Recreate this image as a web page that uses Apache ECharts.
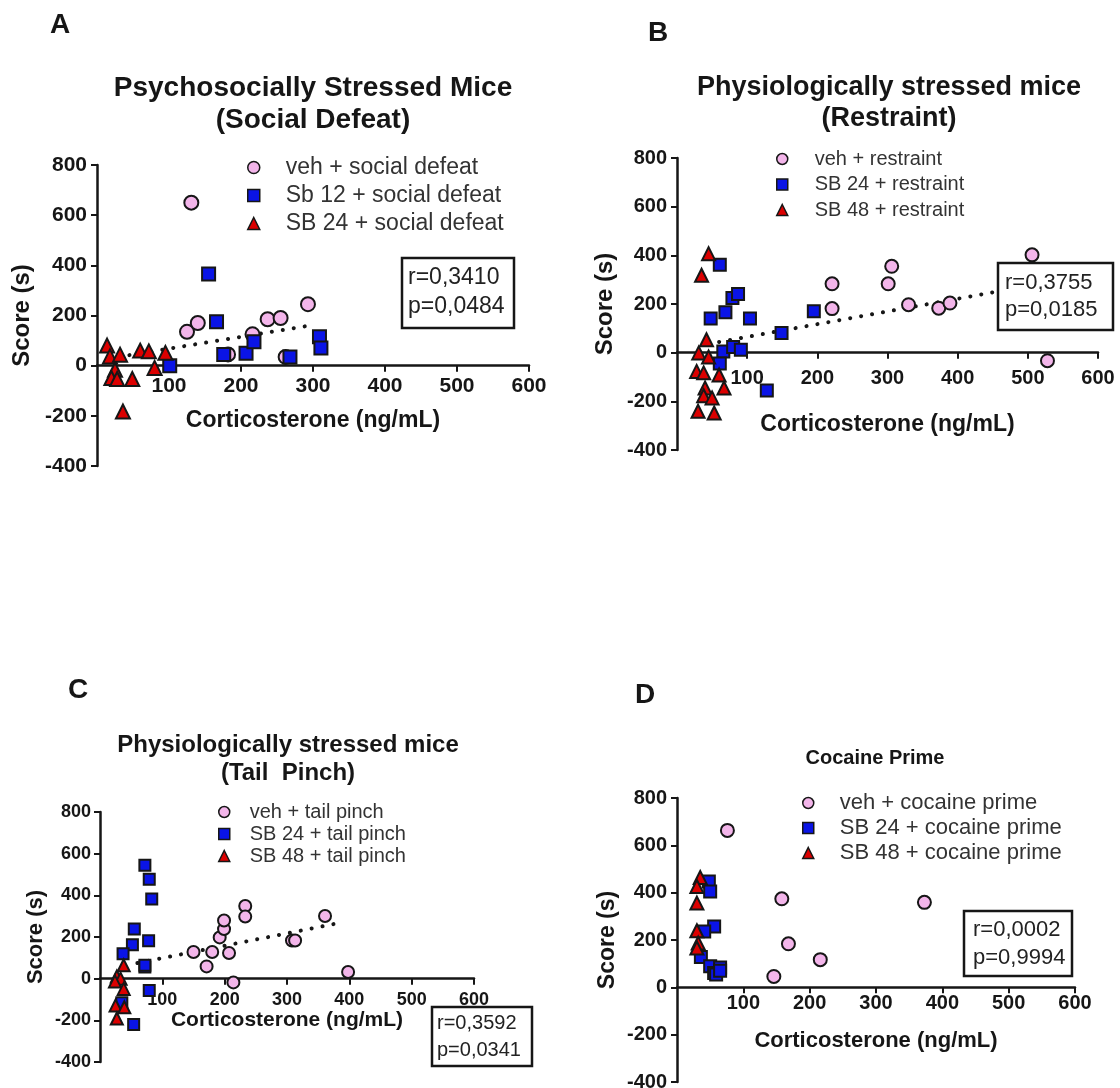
<!DOCTYPE html>
<html>
<head>
<meta charset="utf-8">
<script src="https://cdn.jsdelivr.net/npm/echarts@6/dist/echarts.min.js"></script>
<style>
  html, body { margin: 0; padding: 0; background: #ffffff; }
  #chart { width: 1120px; height: 1088px; }
</style>
</head>
<body>
<div id="chart"></div>
<script>
// ---- Panel A: social defeat ----
const vehSocialDefeat = [[131, 650], [125, 135], [140, 170], [182, 45], [216, 125], [237, 185], [255, 190], [262, 35], [293, 245]];
const sb12SocialDefeat = [[101, 0], [155, 365], [166, 175], [176, 45], [207, 50], [218, 95], [268, 35], [309, 115], [311, 70]];
const sb24SocialDefeat = [[14, 80], [18, 37], [32, 44], [25, -16], [20, -49], [28, -53], [49, -53], [36, -183], [60, 60], [72, 57], [80, -9], [95, 51]];
const fitSocialDefeat = [[45, 42], [300, 162]];
const statsSocialDefeat = ['r=0,3410', 'p=0,0484'];

// ---- Panel B: restraint ----
const vehRestraint = [[221, 283], [221, 181], [306, 355], [301, 283], [330, 197], [373, 183], [389, 204], [506, 402], [528, -33]];
const sb24Restraint = [[61, 361], [48, 140], [69, 166], [79, 225], [87, 241], [104, 140], [149, 81], [195, 170], [66, 5], [80, 23], [91, 12], [61, -45], [128, -155]];
const sb48Restraint = [[45, 407], [35, 318], [42, 53], [31, -1], [45, -18], [28, -77], [38, -83], [60, -92], [40, -145], [67, -145], [38, -177], [50, -186], [30, -241], [53, -248]];
const fitRestraint = [[60, 44], [460, 253]];
const statsRestraint = ['r=0,3755', 'p=0,0185'];

// ---- Panel C: tail pinch ----
const vehTailPinch = [[150, 128], [171, 59], [180, 128], [192, 198], [199, 238], [199, 279], [207, 123], [214, -18], [233, 349], [233, 298], [308, 183], [313, 183], [361, 301], [398, 32]];
const sb24TailPinch = [[72, 56], [72, 65], [72, 545], [79, 477], [83, 383], [78, 182], [55, 238], [52, 163], [37, 120], [79, -57], [35, -116], [54, -220]];
const sb48TailPinch = [[38, 64], [27, 11], [33, 0], [24, -13], [38, -49], [25, -129], [39, -137], [27, -191]];
const fitTailPinch = [[60, 75], [385, 268]];
const statsTailPinch = ['r=0,3592', 'p=0,0341'];

// ---- Panel D: cocaine prime ----
const vehCocaine = [[76, 663], [158, 374], [168, 184], [146, 46], [216, 117], [373, 359]];
const sb24Cocaine = [[48, 447], [50, 405], [56, 257], [41, 236], [36, 128], [50, 89], [65, 84], [56, 61], [59, 54], [65, 70]];
const sb48Cocaine = [[35, 464], [30, 426], [30, 356], [30, 239], [32, 187], [30, 166]];
const statsCocaine = ['r=0,0002', 'p=0,9994'];

// ---- shared axis scale ----
const xRange = { min: 0, max: 600, interval: 100 };
const yRange = { min: -400, max: 800, interval: 200 };
const xAxisTitle = 'Corticosterone (ng/mL)';
const yAxisTitle = 'Score (s)';

const FONT = '"Liberation Sans", Arial, Helvetica, sans-serif';
const INK = '#161616';
const PINK = '#f3b5ea';
const BLUE = '#0a14e6';
const RED = '#dc0000';

const panels = [
  {
    grid: { left: 97, top: 165, width: 432, height: 301 },
    tick: 21, xName: 23, yName: 24, xGap: 43, yGap: 63, xMargin: 10, yMargin: 10,
    sym: 14,
    legend: { left: 247, top: 156, font: 23, gap: 5, pad: 21, icon: 12 },
    names: ['veh + social defeat', 'Sb 12 + social defeat', 'SB 24 + social defeat'],
    data: [vehSocialDefeat, sb12SocialDefeat, sb24SocialDefeat],
    fit: fitSocialDefeat
  },
  {
    grid: { left: 677, top: 158, width: 421, height: 292 },
    tick: 20, xName: 23, yName: 24, xGap: 60, yGap: 60, xMargin: 16, yMargin: 10,
    sym: 13,
    legend: { left: 776, top: 149, font: 20, gap: 5.5, pad: 22, icon: 11 },
    names: ['veh + restraint', 'SB 24 + restraint', 'SB 48 + restraint'],
    data: [vehRestraint, sb24Restraint, sb48Restraint],
    fit: fitRestraint
  },
  {
    grid: { left: 100, top: 812, width: 374, height: 250 },
    tick: 18, xName: 21, yName: 22, xGap: 31, yGap: 53, xMargin: 12, yMargin: 9,
    sym: 12,
    legend: { left: 218, top: 802, font: 20, gap: 2, pad: 15, icon: 11 },
    names: ['veh + tail pinch', 'SB 24 + tail pinch', 'SB 48 + tail pinch'],
    data: [vehTailPinch, sb24TailPinch, sb48TailPinch],
    fit: fitTailPinch
  },
  {
    grid: { left: 677, top: 798, width: 398, height: 284 },
    tick: 20, xName: 22, yName: 23, xGap: 43, yGap: 58, xMargin: 6, yMargin: 10,
    sym: 13,
    legend: { left: 802, top: 792, font: 22, gap: 3, pad: 21, icon: 11 },
    names: ['veh + cocaine prime', 'SB 24 + cocaine prime', 'SB 48 + cocaine prime'],
    data: [vehCocaine, sb24Cocaine, sb48Cocaine],
    fit: null
  }
];

const groupStyle = [
  { symbol: 'circle', color: PINK, icon: 'circle' },
  { symbol: 'rect', color: BLUE, icon: 'rect' },
  { symbol: 'triangle', color: RED, icon: 'triangle' }
];

const grids = [], xAxes = [], yAxes = [], series = [], legends = [];

panels.forEach((p, i) => {
  grids.push(Object.assign({ containLabel: false, outerBoundsMode: 'none' }, p.grid));
  // the x axis runs along score 0: lift it from the grid bottom by the share of the y range below zero
  const zeroLift = p.grid.height * (0 - yRange.min) / (yRange.max - yRange.min);
  xAxes.push({
    type: 'value', gridIndex: i, position: 'bottom', offset: -zeroLift,
    min: xRange.min, max: xRange.max, interval: xRange.interval,
    name: xAxisTitle, nameLocation: 'middle', nameGap: p.xGap,
    nameTextStyle: { fontFamily: FONT, fontWeight: 'bold', fontSize: p.xName, color: INK },
    axisLine: { onZero: false, lineStyle: { color: INK, width: 2.5 } },
    axisTick: { show: true, length: 6, lineStyle: { color: INK, width: 2 } },
    axisLabel: { showMinLabel: false, margin: p.xMargin, fontFamily: FONT, fontWeight: 'bold', fontSize: p.tick, color: INK },
    splitLine: { show: false }
  });
  yAxes.push({
    type: 'value', gridIndex: i, position: 'left',
    min: yRange.min, max: yRange.max, interval: yRange.interval,
    name: yAxisTitle, nameLocation: 'middle', nameGap: p.yGap, nameRotate: 90,
    nameTextStyle: { fontFamily: FONT, fontWeight: 'bold', fontSize: p.yName, color: INK },
    axisLine: { show: true, onZero: false, lineStyle: { color: INK, width: 2.5 } },
    axisTick: { show: true, length: 6, lineStyle: { color: INK, width: 2 } },
    axisLabel: { margin: p.yMargin, fontFamily: FONT, fontWeight: 'bold', fontSize: p.tick, color: INK },
    splitLine: { show: false }
  });

  if (p.fit) {
    series.push({
      type: 'line', xAxisIndex: i, yAxisIndex: i, data: p.fit,
      showSymbol: false, silent: true, z: 1,
      lineStyle: { color: INK, width: 4, type: [0.1, 11], cap: 'round' }
    });
  }

  p.names.forEach((name, g) => {
    series.push({
      type: 'scatter', name, xAxisIndex: i, yAxisIndex: i,
      data: p.data[g], symbol: groupStyle[g].symbol,
      symbolSize: groupStyle[g].symbol === 'rect' ? p.sym - 1 : p.sym,
      itemStyle: { color: groupStyle[g].color, borderColor: INK, borderWidth: 2, opacity: 1 },
      z: 3
    });
  });

  legends.push({
    orient: 'vertical', left: p.legend.left, top: p.legend.top, padding: 0,
    itemWidth: p.legend.icon, itemHeight: p.legend.icon, itemGap: p.legend.gap,
    selectedMode: false,
    textStyle: { fontFamily: FONT, fontSize: p.legend.font, color: '#333', padding: [0, 0, 0, p.legend.pad] },
    data: p.names.map((name, g) => ({
      name, icon: groupStyle[g].icon,
      itemStyle: { color: groupStyle[g].color, borderColor: INK, borderWidth: 1.5 }
    }))
  });
});

// panel letters, titles and correlation boxes
function label(text, x, y, size, weight, align) {
  return {
    type: 'text', x, y, silent: true, z: 10,
    style: { text, font: (weight || 'bold') + ' ' + size + 'px ' + FONT, fill: INK,
      align: align || 'center', verticalAlign: 'middle', lineHeight: Math.round(size * 1.15) }
  };
}
function statBox(lines, x, y, w, h, size, tx, ty1, ty2, fill) {
  return [
    { type: 'rect', silent: true, z: 5, shape: { x, y, width: w, height: h },
      style: { fill: fill, stroke: INK, lineWidth: 2.5 } },
    { type: 'text', silent: true, z: 6, x: tx, y: ty1,
      style: { text: lines[0], font: size + 'px ' + FONT, fill: '#222', align: 'left', verticalAlign: 'middle' } },
    { type: 'text', silent: true, z: 6, x: tx, y: ty2,
      style: { text: lines[1], font: size + 'px ' + FONT, fill: '#222', align: 'left', verticalAlign: 'middle' } }
  ];
}

const graphics = [
  label('A', 60, 25, 28),
  label('B', 658, 33, 28),
  label('C', 78, 690, 28),
  label('D', 645, 695, 28),
  label('Psychosocially Stressed Mice\n(Social Defeat)', 313, 104, 28),
  label('Physiologically stressed mice\n(Restraint)', 889, 103, 27),
  label('Physiologically stressed mice\n(Tail  Pinch)', 288, 759, 24),
  label('Cocaine Prime', 875, 758, 20)
].concat(
  statBox(statsSocialDefeat, 402, 258, 112, 70, 23, 408, 278, 307, '#fff'),
  statBox(statsRestraint, 998, 263, 115, 67, 22, 1005, 283, 310, '#fff'),
  statBox(statsTailPinch, 432, 1007, 100, 59, 20, 437, 1023, 1050, 'rgba(0,0,0,0)'),
  statBox(statsCocaine, 964, 911, 108, 65, 22, 973, 930, 958, '#fff')
);

const chart = echarts.init(document.getElementById('chart'), null, { renderer: 'canvas' });
chart.setOption({
  backgroundColor: '#ffffff',
  animation: false,
  grid: grids,
  xAxis: xAxes,
  yAxis: yAxes,
  legend: legends,
  series: series,
  graphic: graphics
});
</script>
</body>
</html>
